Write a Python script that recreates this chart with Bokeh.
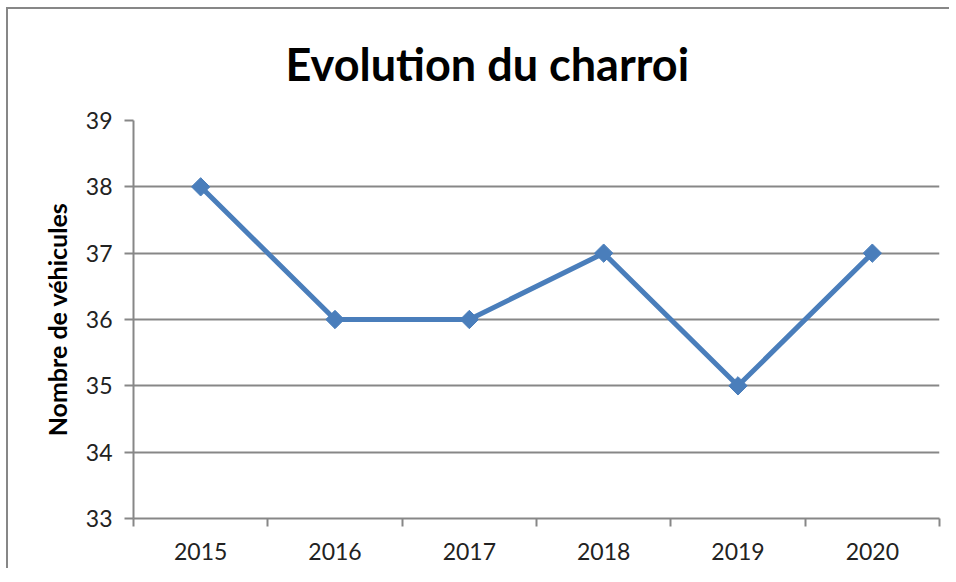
import math
from bokeh.plotting import figure
from bokeh.models import FixedTicker, Range1d, ColumnDataSource, Title
from bokeh.embed import file_html
from bokeh.resources import INLINE

years = ["2015", "2016", "2017", "2018", "2019", "2020"]
vehicles = [38, 36, 36, 37, 35, 37]
y_ticks = [33, 34, 35, 36, 37, 38, 39]
title_text = "Evolution du charroi"

FONT = "Lato"
GRID = "#878787"
BLUE = "#4A7EBB"

xs = [i + 0.5 for i in range(len(years))]
src = ColumnDataSource(dict(x=xs, y=vehicles))

p = figure(output_backend="svg", toolbar_location=None,
           frame_width=806, frame_height=398,
           min_border_left=125, min_border_right=10,
           min_border_top=111, min_border_bottom=50,
           x_range=Range1d(0, len(years)), y_range=Range1d(33, 39))
p.outline_line_color = None
p.background_fill_color = "white"
p.border_fill_color = "white"

p.title = Title(text=title_text, align="left", offset=152, vertical_align="top",
                text_font=FONT, text_font_size="45px", text_font_style="bold",
                text_color="black", standoff=55)

# x axis
xt = FixedTicker(ticks=xs, minor_ticks=list(range(len(years) + 1)))
p.xaxis.ticker = xt
p.xaxis.major_label_overrides = {x: y for x, y in zip(xs, years)}
p.xaxis.major_tick_line_color = None
p.xaxis.minor_tick_line_color = GRID
p.xaxis.minor_tick_line_width = 2
p.xaxis.minor_tick_out = 8
p.xaxis.minor_tick_in = 0
p.xaxis.axis_line_color = GRID
p.xaxis.axis_line_width = 2
p.xaxis.major_label_text_font = FONT
p.xaxis.major_label_text_font_size = "23px"
p.xaxis.major_label_text_color = "#222222"
p.xaxis.major_label_standoff = 16

# y axis
p.yaxis.ticker = FixedTicker(ticks=y_ticks)
p.yaxis.minor_tick_line_color = None
p.yaxis.major_tick_line_color = GRID
p.yaxis.major_tick_line_width = 2
p.yaxis.major_tick_out = 9
p.yaxis.major_tick_in = 0
p.yaxis.axis_line_color = GRID
p.yaxis.axis_line_width = 2
p.yaxis.major_label_text_font = FONT
p.yaxis.major_label_text_font_size = "23px"
p.yaxis.major_label_text_color = "#222222"
p.yaxis.major_label_standoff = 12
p.yaxis.axis_label = "Nombre de véhicules"
p.yaxis.axis_label_text_font = FONT
p.yaxis.axis_label_text_font_size = "25px"
p.yaxis.axis_label_text_font_style = "bold"
p.yaxis.axis_label_text_color = "black"
p.yaxis.axis_label_standoff = 11

p.xgrid.grid_line_color = None
p.ygrid.ticker = FixedTicker(ticks=y_ticks)
p.ygrid.grid_line_color = GRID
p.ygrid.grid_line_width = 2

p.line("x", "y", source=src, line_color=BLUE, line_width=5)
p.scatter("x", "y", source=src, marker="square", angle=math.pi / 4, size=13,
          fill_color=BLUE, line_color=BLUE)

p.styles = {"border-left": "2px solid #878787", "border-top": "2px solid #878787",
            "margin-left": "6px", "margin-top": "7px"}

open("out.html", "w").write(file_html(p, INLINE))
